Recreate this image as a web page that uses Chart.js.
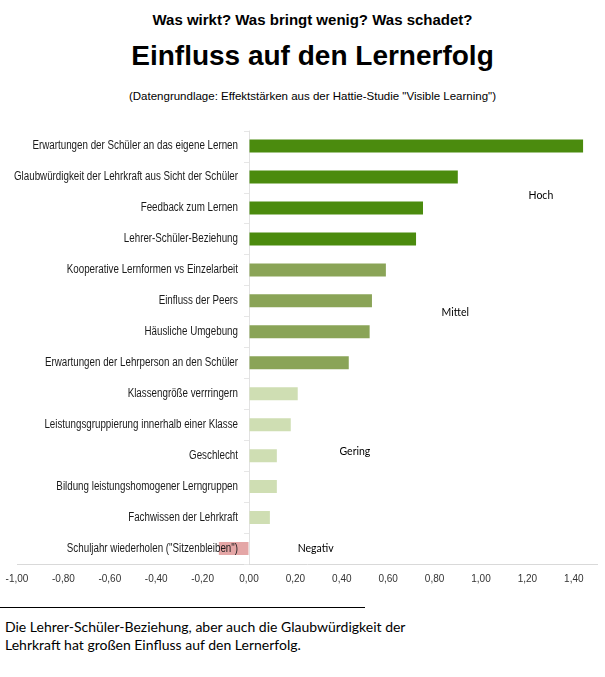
<!DOCTYPE html>
<html lang="de">
<head>
<meta charset="utf-8">
<title>Einfluss auf den Lernerfolg</title>
<script src="https://cdn.jsdelivr.net/npm/chart.js@4.4.0/dist/chart.umd.min.js"></script>
<style>
  body { margin: 0; background: #fff; width: 605px; height: 677px; position: relative; overflow: hidden; }
  .kopf { position: absolute; left: 10px; width: 605px; text-align: center; font-family: "Liberation Sans", Arial, sans-serif; color: #000; white-space: nowrap; }
  #t1 { top: 11px; font-size: 15px; line-height: 18px; font-weight: bold; }
  #t2 { top: 40px; font-size: 28px; line-height: 32px; font-weight: bold; }
  #t3 { top: 89px; font-size: 11.5px; line-height: 14px; }
  #chartBox { position: absolute; left: 0; top: 120px; width: 605px; height: 480px; }
  #linie { position: absolute; left: 0; top: 607px; width: 365px; border-top: 1px solid #000; }
  #fazit { position: absolute; left: 5px; top: 618px; font-family: Lato, "Open Sans", sans-serif; font-size: 14px; line-height: 18px; color: #000; white-space: nowrap; }
</style>
</head>
<body>
<div class="kopf" id="t1">Was wirkt? Was bringt wenig? Was schadet?</div>
<div class="kopf" id="t2">Einfluss auf den Lernerfolg</div>
<div class="kopf" id="t3">(Datengrundlage: Effektstärken aus der Hattie-Studie "Visible Learning")</div>
<div id="chartBox"><canvas id="myChart"></canvas></div>
<div id="linie"></div>
<div id="fazit">Die Lehrer-Schüler-Beziehung, aber auch die Glaubwürdigkeit der<br>Lehrkraft hat großen Einfluss auf den Lernerfolg.</div>

<script>
const kategorien = [
  "Erwartungen der Schüler an das eigene Lernen",
  "Glaubwürdigkeit der Lehrkraft aus Sicht der Schüler",
  "Feedback zum Lernen",
  "Lehrer-Schüler-Beziehung",
  "Kooperative Lernformen vs Einzelarbeit",
  "Einfluss der Peers",
  "Häusliche Umgebung",
  "Erwartungen der Lehrperson an den Schüler",
  "Klassengröße verrringern",
  "Leistungsgruppierung innerhalb einer Klasse",
  "Geschlecht",
  "Bildung leistungshomogener Lerngruppen",
  "Fachwissen der Lehrkraft",
  "Schuljahr wiederholen (\"Sitzenbleiben\")"
];
const effektstaerken = [1.44, 0.90, 0.75, 0.72, 0.59, 0.53, 0.52, 0.43, 0.21, 0.18, 0.12, 0.12, 0.09, -0.13];
const stufen = ["hoch", "hoch", "hoch", "hoch", "mittel", "mittel", "mittel", "mittel",
                "gering", "gering", "gering", "gering", "gering", "negativ"];
const stufenNamen = ["Hoch", "Mittel", "Gering", "Negativ"];

const farben = { hoch: "#4b8b0e", mittel: "#8aa457", gering: "#cfdeb3", negativ: "#e4a6a6" };

// where the level words start (x in effect size, y in category index)
const stufenOrte = [[1.205, 1.59], [0.83, 5.39], [0.39, 9.86], [0.21, 12.99]];

const labelPlugin = {
  id: "kategorieLabels",
  afterDatasetsDraw(chart) {
    const ctx = chart.ctx;
    const xs = chart.scales.x;
    const ys = chart.scales.y;
    const x0 = xs.getPixelForValue(0);
    ctx.save();
    // small tick marks between categories
    ctx.strokeStyle = "#e6e6e6";
    ctx.lineWidth = 1;
    for (let i = 0; i <= kategorien.length; i++) {
      const y = Math.round(ys.getPixelForValue(i - 0.5)) + 0.5;
      ctx.beginPath();
      ctx.moveTo(x0 - 5, y);
      ctx.lineTo(x0, y);
      ctx.stroke();
    }
    // narrow look: squeeze the labels horizontally
    ctx.font = '12px "Liberation Sans", Arial, sans-serif';
    const sx = 224 / ctx.measureText(kategorien[1]).width;
    ctx.fillStyle = "#1a1a1a";
    ctx.textAlign = "right";
    ctx.textBaseline = "middle";
    kategorien.forEach((k, i) => {
      ctx.save();
      ctx.translate(x0 - 11, ys.getPixelForValue(i));
      ctx.scale(sx, 1);
      ctx.fillText(k, 0, 0);
      ctx.restore();
    });
    ctx.font = '10.5px Lato, "Open Sans", sans-serif';
    ctx.textAlign = "left";
    ctx.fillStyle = "#000";
    stufenNamen.forEach((n, i) => {
      ctx.fillText(n, xs.getPixelForValue(stufenOrte[i][0]), ys.getPixelForValue(stufenOrte[i][1]));
    });
    ctx.restore();
  }
};

new Chart(document.getElementById("myChart"), {
  type: "bar",
  data: {
    labels: kategorien,
    datasets: [{
      data: effektstaerken,
      backgroundColor: stufen.map(s => farben[s]),
      borderWidth: 0,
      barPercentage: 0.42,
      categoryPercentage: 1
    }]
  },
  options: {
    indexAxis: "y",
    responsive: true,
    maintainAspectRatio: false,
    animation: false,
    layout: { padding: { left: 17, right: 8, top: 10.6, bottom: 6 } },
    plugins: { legend: { display: false }, tooltip: { enabled: false } },
    scales: {
      x: {
        min: -1,
        max: 1.5,
        afterFit: s => { s.paddingLeft = 0; s.paddingRight = 0; },
        grid: {
          drawTicks: false,
          color: c => (c.tick && c.tick.value === 0 ? "#e2e2e2" : "rgba(0,0,0,0)")
        },
        border: { display: true, color: "#d9d9d9" },
        ticks: {
          stepSize: 0.2,
          includeBounds: false,
          padding: 9,
          color: "#333",
          font: { family: "Liberation Sans", size: 10 },
          callback: v => (Math.round(v * 100) / 100).toFixed(2).replace(".", ",")
        }
      },
      y: { display: false }
    }
  },
  plugins: [labelPlugin]
});
</script>
</body>
</html>
